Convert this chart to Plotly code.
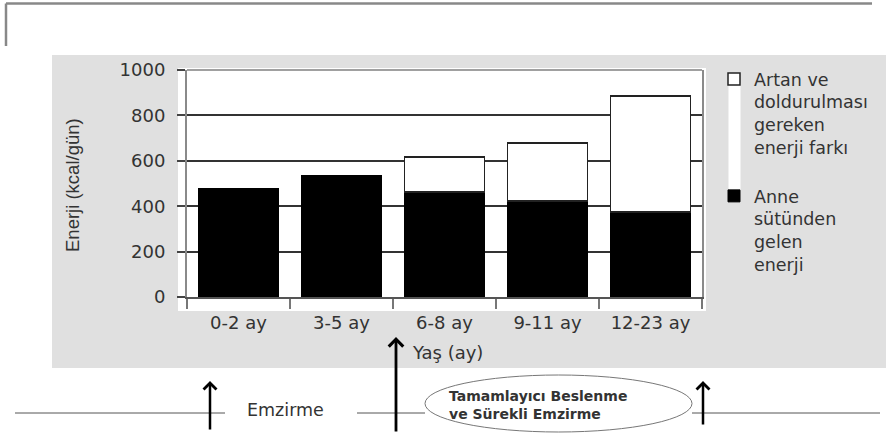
import plotly.graph_objects as go

# ---- data ----
categories = ["0-2 ay", "3-5 ay", "6-8 ay", "9-11 ay", "12-23 ay"]
breast_milk = [480, 537, 462, 423, 374]
energy_gap = [None, None, 155, 255, 511]
y_ticks = [0, 200, 400, 600, 800, 1000]

name_gap = "Artan ve<br>doldurulması<br>gereken<br>enerji farkı"
name_milk = "Anne<br>sütünden<br>gelen<br>enerji"

W, H = 886, 435
L, R, T, B = 187, 702, 70, 297  # plot area in pixels


def px(x):
    return (x - L) / (R - L)


def py(y):
    return (B - y) / (B - T)


TXT = "#333333"
FONT = "DejaVu Sans"

fig = go.Figure()
fig.add_trace(go.Bar(
    x=categories, y=breast_milk, name=name_milk, legendgroup="b", legendrank=2,
    marker=dict(color="black", line=dict(color="black", width=1)), width=0.78,
))
fig.add_trace(go.Bar(
    x=categories, y=energy_gap, name=name_gap, legendgroup="a", legendrank=1,
    marker=dict(color="white", line=dict(color="#222222", width=1.5)), width=0.78,
))

shapes = [
    # gray panel and white plot background
    dict(type="rect", xref="paper", yref="paper", x0=px(52), x1=px(886), y0=py(368), y1=py(55),
         fillcolor="#e0e0e0", line=dict(width=0), layer="below"),
    dict(type="rect", xref="paper", yref="paper", x0=px(178), x1=px(706), y0=py(311), y1=py(68),
         fillcolor="white", line=dict(width=0), layer="below"),
    # legend white strip
    dict(type="rect", xref="paper", yref="paper", x0=px(728.5), x1=px(740.5), y0=py(191), y1=py(83),
         fillcolor="white", line=dict(width=0), layer="below"),
    # top border of plot
    dict(type="line", xref="paper", yref="paper", x0=0, x1=1, y0=1, y1=1,
         line=dict(color="#a0a0a0", width=2)),
    # outer frame
    dict(type="line", xref="paper", yref="paper", x0=px(6), x1=px(872), y0=py(3.5), y1=py(3.5),
         line=dict(color="#888888", width=2.5)),
    dict(type="line", xref="paper", yref="paper", x0=px(6), x1=px(6), y0=py(3.5), y1=py(46),
         line=dict(color="#888888", width=2.5)),
    # bottom timeline
    dict(type="line", xref="paper", yref="paper", x0=px(15), x1=px(225), y0=py(413), y1=py(413),
         line=dict(color="#555555", width=1)),
    dict(type="line", xref="paper", yref="paper", x0=px(357), x1=px(425), y0=py(413), y1=py(413),
         line=dict(color="#555555", width=1)),
    dict(type="line", xref="paper", yref="paper", x0=px(692), x1=px(880), y0=py(413), y1=py(413),
         line=dict(color="#555555", width=1)),
    dict(type="circle", xref="paper", yref="paper", x0=px(425), x1=px(692), y0=py(432), y1=py(375),
         line=dict(color="#777777", width=1), fillcolor="white"),
]

annotations = [
    dict(text="Enerji (kcal/gün)", xref="paper", yref="paper", x=px(72), y=py(185),
         xanchor="center", yanchor="middle",
         textangle=-90, showarrow=False, font=dict(family="Liberation Sans", size=18.5, color=TXT)),
    dict(text="Yaş (ay)", xref="paper", yref="paper", x=px(447), y=py(352),
         xanchor="center", yanchor="middle",
         showarrow=False, font=dict(family=FONT, size=18, color=TXT)),
    dict(text="Emzirme", xref="paper", yref="paper", x=px(285), y=py(410),
         xanchor="center", yanchor="middle",
         showarrow=False, font=dict(family=FONT, size=17.5, color=TXT)),
    dict(text="Tamamlayıcı Beslenme<br>ve Sürekli Emzirme", xref="paper", yref="paper",
         x=px(447), y=py(404.5), xanchor="left", yanchor="middle", align="left",
         showarrow=False, font=dict(family=FONT, size=14, color=TXT, weight="bold")),
]
for x, ytip, ytail, w in [(210, 381, 431, 2.5), (703, 381, 426, 2.5), (396, 337, 433, 2.8)]:
    annotations.append(dict(text="", xref="paper", yref="paper", x=px(x), y=py(ytip),
                            ax=0, ay=ytail - ytip, showarrow=True, arrowhead=4,
                            arrowsize=1.0, arrowwidth=w, arrowcolor="black"))

fig.update_layout(
    template="none",
    width=W, height=H,
    margin=dict(l=L, r=W - R, t=T, b=H - B, pad=0),
    paper_bgcolor="white",
    plot_bgcolor="rgba(0,0,0,0)",
    barmode="stack",
    bargap=0.22,
    font=dict(family=FONT, size=18, color=TXT),
    showlegend=True,
    legend=dict(x=px(714), y=py(61), xanchor="left", yanchor="top",
                traceorder="grouped", tracegroupgap=23, valign="top", maxheight=420,
                bgcolor="rgba(0,0,0,0)", font=dict(family=FONT, size=17.5, color=TXT)),
    xaxis=dict(type="category", range=[-0.5, 4.5], showgrid=False, showline=True,
               linecolor="#555555", linewidth=2, ticks="outside", tickson="boundaries",
               ticklen=10, tickwidth=2, tickcolor="#777777", automargin=False,
               tickfont=dict(family=FONT, size=18, color=TXT), ticklabelstandoff=8),
    yaxis=dict(range=[0, 1000], tickvals=y_ticks, showgrid=True, gridcolor="#333333",
               gridwidth=1.5, showline=True, linecolor="#8a8a8a", linewidth=2, mirror=True,
               zeroline=False, ticks="outside", ticklen=8, tickwidth=1.5, tickcolor="#444444",
               automargin=False, tickfont=dict(family=FONT, size=18, color=TXT),
               ticklabelstandoff=8),
    shapes=shapes,
    annotations=annotations,
)

fig.write_html("out.html", config={"displayModeBar": False},
               post_script="document.body.style.margin='0';document.body.style.overflow='hidden';")
